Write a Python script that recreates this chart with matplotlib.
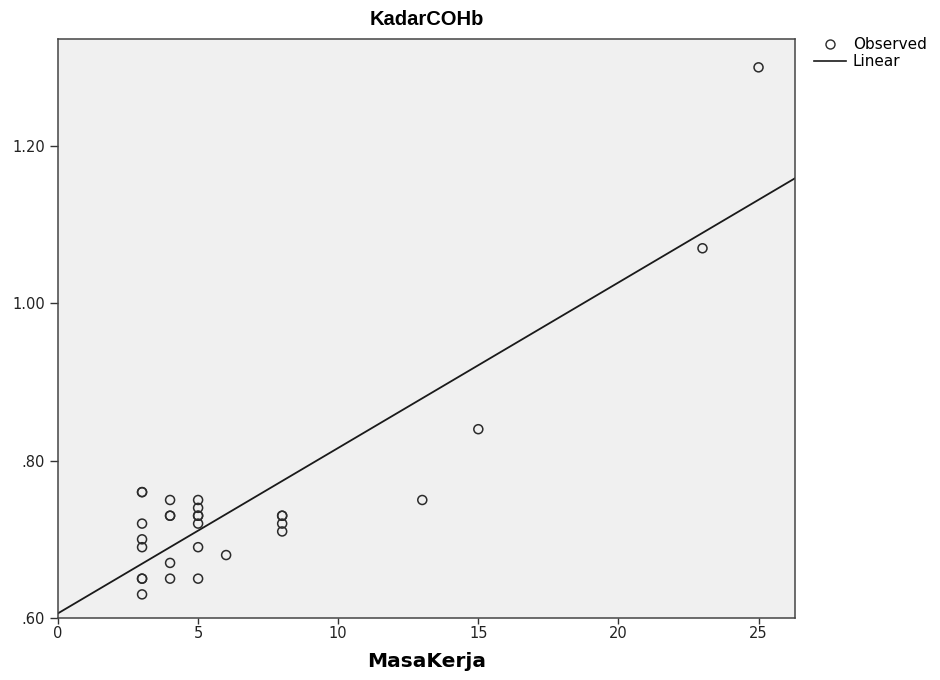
import numpy as np
import matplotlib
matplotlib.use("Agg")
import matplotlib.pyplot as plt
from matplotlib.lines import Line2D

# MasaKerja vs KadarCOHb
masa_kerja = [3, 3, 3, 3, 3, 3, 3, 3,
              4, 4, 4, 4, 4,
              5, 5, 5, 5, 5, 5, 5,
              6,
              8, 8, 8, 8,
              13, 15, 23, 25]
kadar_cohb = [0.76, 0.76, 0.72, 0.70, 0.69, 0.65, 0.65, 0.63,
              0.75, 0.73, 0.73, 0.67, 0.65,
              0.75, 0.74, 0.73, 0.73, 0.72, 0.69, 0.65,
              0.68,
              0.73, 0.73, 0.72, 0.71,
              0.75, 0.84, 1.07, 1.30]
x_ticks = [0, 5, 10, 15, 20, 25]
y_ticks = [0.60, 0.80, 1.00, 1.20]
y_labels = [".60", ".80", "1.00", "1.20"]

xs = np.array(masa_kerja, dtype=float)
ys = np.array(kadar_cohb)
m, b = np.polyfit(xs, ys, 1)

fig = plt.figure(figsize=(9.4, 6.8), dpi=100)
ax = fig.add_axes([0.0617, 0.0912, 0.7840, 0.8514])
ax.set_facecolor("#f0f0f0")

xmax = 26.3
ax.set_xlim(0, xmax)
ax.set_ylim(0.60, 1.336)

line_x = np.array([0, xmax])
ax.plot(line_x, m * line_x + b, color="#1a1a1a", lw=1.3, zorder=2)
ax.scatter(xs, ys, s=42, facecolors="none", edgecolors="#2b2b2b", linewidths=1.1, zorder=3)

ax.set_xticks(x_ticks)
ax.set_yticks(y_ticks)
ax.set_yticklabels(y_labels)
ax.tick_params(axis="both", direction="out", length=6, width=1, color="#333333",
               labelsize=10.5, labelcolor="#222222")
ax.tick_params(axis="x", length=4, pad=2)
for s in ax.spines.values():
    s.set_color("#444444")
    s.set_linewidth(1.1)

ax.set_title("KadarCOHb", fontsize=14.5, fontweight="bold", pad=10,
             family=["Liberation Sans", "DejaVu Sans"])
ax.set_xlabel("MasaKerja", fontsize=14.5, fontweight="bold", labelpad=8)

handles = [Line2D([], [], marker="o", ls="none", markerfacecolor="none",
                  markeredgecolor="#2b2b2b", markersize=6.5),
           Line2D([], [], color="#1a1a1a", lw=1.2)]
fig.legend(handles, ["Observed", "Linear"], loc="upper left",
           bbox_to_anchor=(0.866, 0.945), frameon=False, fontsize=11,
           handlelength=2.1, handletextpad=0.45, labelspacing=0.1,
           borderaxespad=0.0, borderpad=0.0)

fig.savefig("out.png", dpi=100, facecolor="white")
